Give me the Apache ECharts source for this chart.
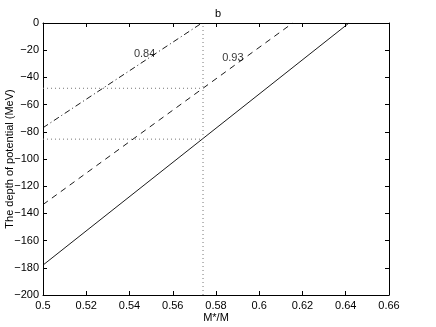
<!DOCTYPE html>
<html>
<head>
<meta charset="utf-8">
<script src="https://cdn.jsdelivr.net/npm/echarts@6/dist/echarts.min.js"></script>
<style>
  html, body { margin: 0; padding: 0; background: #fff; }
  #chart { width: 436px; height: 327px; }
</style>
</head>
<body>
<div id="chart"></div>
<script>
// straight lines, given by their two end points [M*/M, depth]
const solidLine = [[0.5, -178], [0.6415, 0]];
const dashedLine = [[0.5, -133.5], [0.6155, 0]];
const dashDotLine = [[0.5, -77], [0.5735, 0]];
// dotted guide lines
const guideX = 0.574;
const guideY = [-48, -85.4];
const curveLabels = [['0.84', 0.547, -22.5], ['0.93', 0.5878, -26]];

const fontFamily = 'Liberation Sans, Arial, sans-serif';
const minusFmt = v => String(Math.round(v * 100) / 100).replace('-', '\u2212');

let myChart = echarts.init(document.getElementById('chart'));

let series = [
  {
    type: 'line', data: solidLine, symbol: 'none', silent: true,
    lineStyle: { color: '#000', width: 0.9, type: 'solid' }
  },
  {
    type: 'line', data: dashedLine, symbol: 'none', silent: true,
    lineStyle: { color: '#000', width: 0.9, type: [6, 5] }
  },
  {
    type: 'line', data: dashDotLine, symbol: 'none', silent: true,
    lineStyle: { color: '#000', width: 0.9, type: [6, 3, 1, 3] }
  },
  {
    type: 'line', data: [[guideX, -200], [guideX, 0]], symbol: 'none', silent: true,
    lineStyle: { color: '#777', width: 1, type: [1, 3] }
  }
];
guideY.forEach(y => {
  series.push({
    type: 'line', data: [[0.5, y], [guideX, y]], symbol: 'none', silent: true,
    lineStyle: { color: '#777', width: 1, type: [1, 3] }
  });
});
series.push({
  type: 'scatter', symbolSize: 0, silent: true,
  data: curveLabels.map(l => ({ value: [l[1], l[2]], name: l[0] })),
  label: {
    show: true, position: 'inside', formatter: p => p.name,
    color: '#000', fontSize: 11, fontFamily: fontFamily
  }
});

function axisLine() {
  return { show: true, onZero: false, lineStyle: { color: '#000', width: 1 } };
}
function tickStyle() {
  return { show: true, inside: true, length: 4, lineStyle: { color: '#000', width: 1 } };
}

let option = {
  animation: false,
  title: {
    text: 'b', left: 'center', top: 3,
    textStyle: { fontSize: 11, fontWeight: 'normal', color: '#000', fontFamily: fontFamily }
  },
  grid: { left: 43, right: 47, top: 23, bottom: 32, outerBoundsMode: 'none', containLabel: false },
  xAxis: [
    {
      type: 'value', min: 0.5, max: 0.66, interval: 0.02,
      name: 'M*/M', nameLocation: 'middle', nameGap: 17, nameMoveOverlap: false,
      nameTextStyle: { fontSize: 11, color: '#000', fontFamily: fontFamily },
      axisLine: axisLine(), axisTick: tickStyle(), splitLine: { show: false },
      axisLabel: { fontSize: 11, color: '#000', fontFamily: fontFamily, margin: 5, formatter: minusFmt }
    },
    {
      type: 'value', position: 'top', min: 0.5, max: 0.66, interval: 0.02,
      axisLine: axisLine(), axisTick: tickStyle(), splitLine: { show: false },
      axisLabel: { show: false }
    }
  ],
  yAxis: [
    {
      type: 'value', min: -200, max: 0, interval: 20,
      name: 'The depth of potential (MeV)', nameLocation: 'middle', nameGap: 28, nameMoveOverlap: false,
      nameTextStyle: { fontSize: 11, color: '#000', fontFamily: fontFamily },
      axisLine: axisLine(), axisTick: tickStyle(), splitLine: { show: false },
      axisLabel: { fontSize: 11, color: '#000', fontFamily: fontFamily, margin: 4, formatter: minusFmt }
    },
    {
      type: 'value', position: 'right', min: -200, max: 0, interval: 20,
      axisLine: axisLine(), axisTick: tickStyle(), splitLine: { show: false },
      axisLabel: { show: false }
    }
  ],
  series: series
};

myChart.setOption(option, true);
</script>
</body>
</html>
